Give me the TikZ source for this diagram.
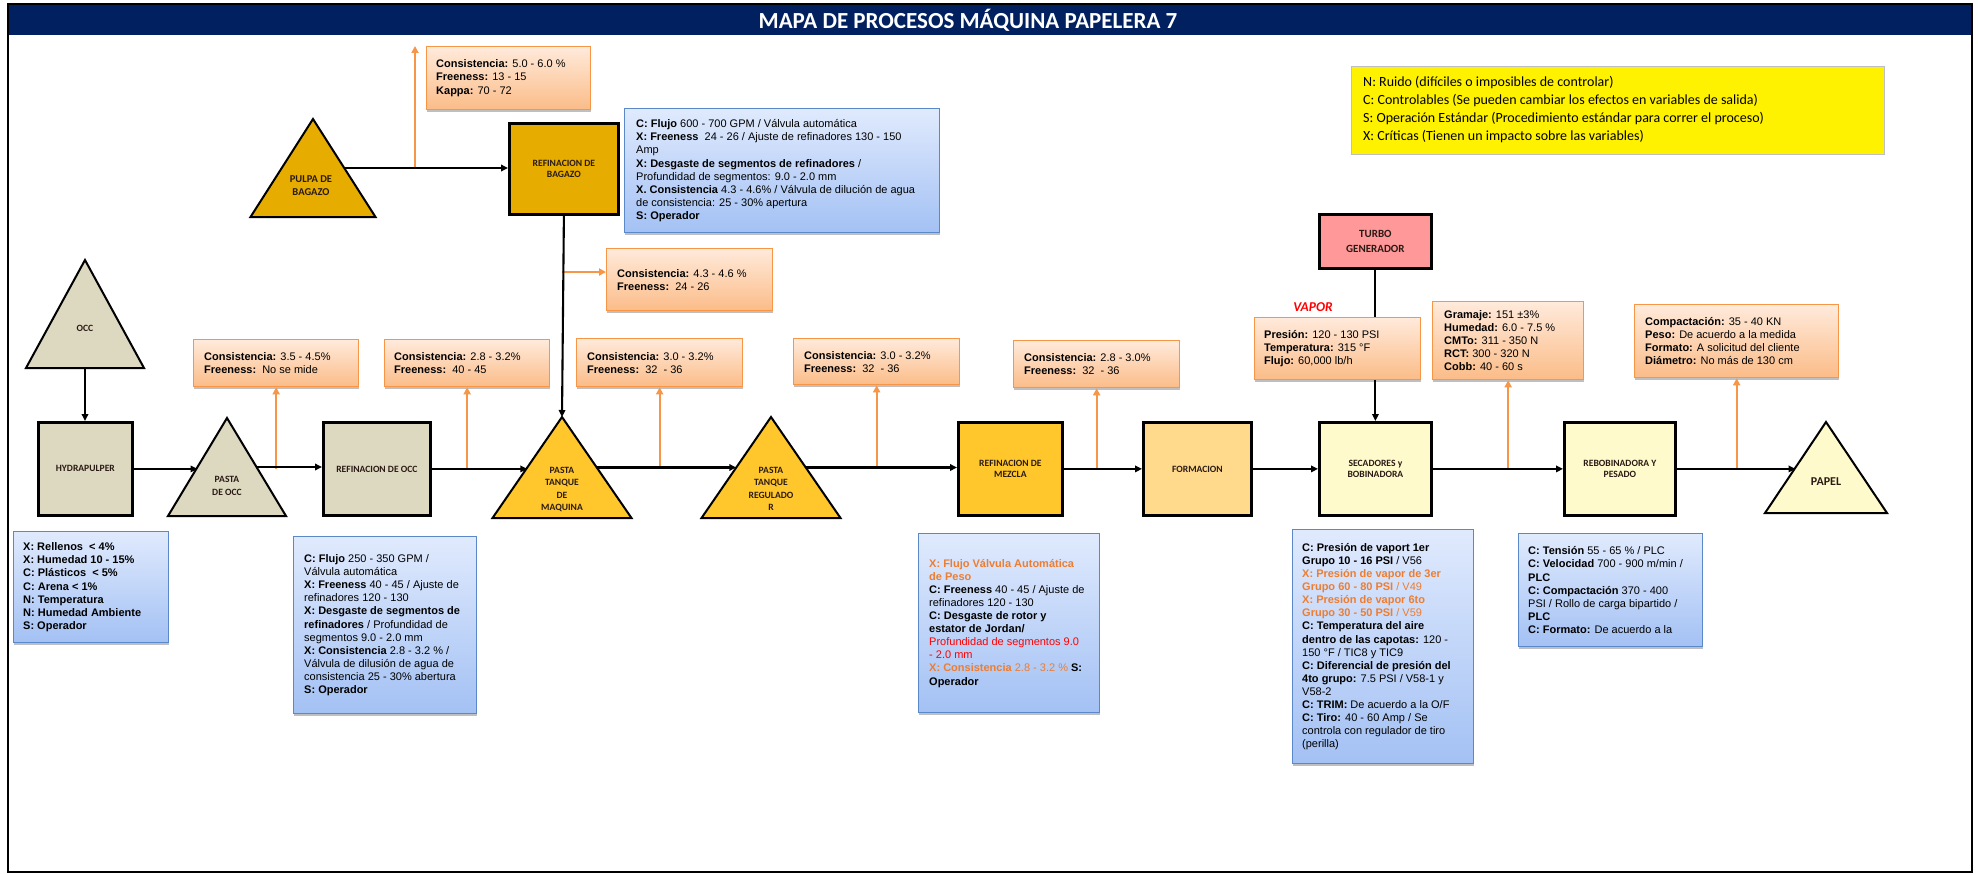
\documentclass[tikz,border=0pt]{standalone}
\usepackage{fontspec}
\setmainfont{Liberation Sans}
\newfontfamily\carlito{Carlito}
\usetikzlibrary{arrows.meta,calc,shadows}

\definecolor{cNavy}{HTML}{002060}
\definecolor{cTan}{HTML}{DDD8C0}
\definecolor{cGold}{HTML}{E6AC00}
\definecolor{cYel}{HTML}{FFC72C}
\definecolor{cForm}{HTML}{FFD98C}
\definecolor{cLtYel}{HTML}{FFFACC}
\definecolor{cPink}{HTML}{FF9999}
\definecolor{cLbl}{HTML}{2A1A14}
\definecolor{cOrgLine}{HTML}{F79646}
\definecolor{cOrgTop}{HTML}{FFEADB}
\definecolor{cOrgBot}{HTML}{FBBC88}
\definecolor{cBluLine}{HTML}{5A88C8}
\definecolor{cBluTop}{HTML}{E0EAFD}
\definecolor{cBluBot}{HTML}{A3C1F4}
\definecolor{cOrgTxt}{HTML}{ED7D31}
\definecolor{cLegBd}{HTML}{BFBFBF}

% triangle with apex (#2,#3), half base #4, height #5, fill #6
\newcommand\mytri[6]{%
  \coordinate (#1-a) at (#2,#3);
  \coordinate (#1-bl) at ({#2-#4},{#3+#5});
  \coordinate (#1-br) at ({#2+#4},{#3+#5});
  \draw[tri, fill=#6] (#1-a) -- (#1-br) -- (#1-bl) -- cycle;
  \coordinate (#1-l) at ($(#1-a)!0.5!(#1-bl)$);
  \coordinate (#1-r) at ($(#1-a)!0.5!(#1-br)$);
  \coordinate (#1-b) at ($(#1-bl)!0.5!(#1-br)$);
}

\begin{document}
\begin{tikzpicture}[x=1pt,y=-1pt,
  conn/.style={draw=black, line width=2.1pt, -{Triangle[length=7pt,width=6.5pt]}},
  oarr/.style={draw=cOrgLine, line width=2pt, -{Triangle[length=7pt,width=7pt]}},
  boxnode/.style={draw=black, line width=2.8pt, inner sep=0pt, anchor=north west,
    align=center, text=cLbl, font=\carlito\bfseries\fontsize{9.6}{11.5}\selectfont},
  tri/.style={draw=black, line width=2pt},
  trilbl/.style={inner sep=0pt, align=center, text=cLbl,
    font=\carlito\bfseries\fontsize{9.6}{12.4}\selectfont},
  shadowed/.style={drop shadow={shadow xshift=0.8pt, shadow yshift=-2.5pt, fill=black, opacity=0.25}},
  obox/.style={draw=cOrgLine, line width=1.3pt, top color=cOrgTop, bottom color=cOrgBot,
    anchor=north west, inner sep=0pt, shadowed},
  bbox/.style={draw=cBluLine, line width=1.3pt, top color=cBluTop, bottom color=cBluBot,
    anchor=north west, inner sep=0pt, shadowed},
  btxt/.style={anchor=west, inner sep=0pt, align=left, font=\fontsize{11}{13.1}\selectfont},
]
\useasboundingbox (0,0) rectangle (1978,875);

% frame and title bar
\fill[white] (0,0) rectangle (1978,875);
\fill[cNavy] (8,4) rectangle (1972,35);
\draw[line width=2.5pt] (8,4) rectangle (1972,872);
\node[text=white, font=\carlito\bfseries\fontsize{23}{26}\selectfont] (title) at (968,20)
  {MAPA DE PROCESOS MÁQUINA PAPELERA 7};

% legend
\node[draw=cLegBd, line width=1pt, fill=yellow, minimum width=533, minimum height=88,
  anchor=north west, inner sep=0pt] (leg) at (1351,66) {};
\node[anchor=west, inner sep=0pt, align=left, font=\carlito\fontsize{14}{18.2}\selectfont]
  (legt) at ([xshift=12pt,yshift=1pt]leg.west) {N: Ruido (difíciles o imposibles de controlar)\\
  C: Controlables (Se pueden cambiar los efectos en variables de salida)\\
  S: Operación Estándar (Procedimiento estándar para correr el proceso)\\
  X: Críticas (Tienen un impacto sobre las variables)};

% process boxes
\node[boxnode, fill=cTan, minimum width=94, minimum height=93] (hydra) at (37,421) {HYDRAPULPER};
\node[boxnode, fill=cTan, minimum width=107, minimum height=93] (refocc) at (322,421) {REFINACION DE OCC};
\node[boxnode, fill=cGold, minimum width=109, minimum height=91] (refbag) at (508,122) {REFINACION DE\\BAGAZO};
\node[boxnode, fill=cYel, minimum width=104, minimum height=93] (refmez) at (957,421) {REFINACION DE\\MEZCLA};
\node[boxnode, fill=cForm, minimum width=108, minimum height=93] (form) at (1142,421) {FORMACION};
\node[boxnode, fill=cLtYel, minimum width=112, minimum height=93] (secad) at (1318,421) {SECADORES y\\BOBINADORA};
\node[boxnode, fill=cLtYel, minimum width=111, minimum height=93] (rebob) at (1563,421) {REBOBINADORA Y\\PESADO};
\node[boxnode, fill=cPink, minimum width=112, minimum height=54,
  font=\carlito\bfseries\fontsize{11}{15}\selectfont] (turbo) at (1318,213) {TURBO\\GENERADOR};

% storage triangles
\mytri{occ}{85}{260}{59}{108}{cTan}
\mytri{pocc}{227}{418}{59}{98}{cTan}
\mytri{ptm}{562}{417}{69.5}{101}{cYel}
\mytri{ptr}{771}{417}{69.5}{101}{cYel}
\mytri{papel}{1826}{422}{61}{91}{cLtYel}
\mytri{pulpa}{313}{119}{62.5}{98}{cGold}
\node[trilbl] (occt) at (85,328) {OCC};
\node[trilbl, font=\carlito\bfseries\fontsize{9.6}{13}\selectfont] (poct) at (227,486) {PASTA\\DE OCC};
\node[trilbl] (ptmt) at (562,489.5) {PASTA\\TANQUE\\DE\\MAQUINA};
\node[trilbl] (ptrt) at (771,489) {PASTA\\TANQUE\\REGULADO\\R};
\node[trilbl, font=\carlito\bfseries\fontsize{12}{14}\selectfont] (papelt) at (1826,482) {PAPEL};
\node[trilbl, font=\carlito\bfseries\fontsize{10.5}{13}\selectfont] (pulpat) at (311,186) {PULPA DE\\BAGAZO};

% measured values (orange)
\node[obox, minimum width=164, minimum height=63] (ob1) at (426,46) {};
\node[btxt] (ob1t) at ([xshift=10pt]ob1.west) {\textbf{Consistencia:} 5.0 - 6.0 \%\\ \textbf{Freeness:} 13 - 15\\ \textbf{Kappa:} 70 - 72};
\node[obox, minimum width=166, minimum height=62] (ob2) at (606,248) {};
\node[btxt] (ob2t) at ([xshift=11pt]ob2.west) {\textbf{Consistencia:} 4.3 - 4.6 \%\\ \textbf{Freeness:}\ \ 24 - 26};
\node[obox, minimum width=165, minimum height=47] (ob3) at (193,339) {};
\node[btxt] (ob3t) at ([xshift=11pt]ob3.west) {\textbf{Consistencia:} 3.5 - 4.5\%\\ \textbf{Freeness:}\ \ No se mide};
\node[obox, minimum width=165, minimum height=47] (ob4) at (384,339) {};
\node[btxt] (ob4t) at ([xshift=10pt]ob4.west) {\textbf{Consistencia:} 2.8 - 3.2\%\\ \textbf{Freeness:}\ \ 40 - 45};
\node[obox, minimum width=166, minimum height=48] (ob5) at (576,338) {};
\node[btxt] (ob5t) at ([xshift=11pt]ob5.west) {\textbf{Consistencia:} 3.0 - 3.2\%\\ \textbf{Freeness:}\ \ 32\ \ - 36};
\node[obox, minimum width=166, minimum height=46] (ob6) at (793,338) {};
\node[btxt] (ob6t) at ([xshift=11pt]ob6.west) {\textbf{Consistencia:} 3.0 - 3.2\%\\ \textbf{Freeness:}\ \ 32\ \ - 36};
\node[obox, minimum width=166, minimum height=47] (ob7) at (1013,340) {};
\node[btxt] (ob7t) at ([xshift=11pt]ob7.west) {\textbf{Consistencia:} 2.8 - 3.0\%\\ \textbf{Freeness:}\ \ 32\ \ - 36};
\node[obox, minimum width=151, minimum height=78] (gram) at (1432,301) {};
\node[btxt] (gramt) at ([xshift=12pt]gram.west) {\textbf{Gramaje:} 151 ±3\%\\ \textbf{Humedad:} 6.0 - 7.5 \%\\ \textbf{CMTo:} 311 - 350 N\\ \textbf{RCT:} 300 - 320 N\\ \textbf{Cobb:} 40 - 60 s};
\node[obox, minimum width=204, minimum height=73] (comp) at (1634,304) {};
\node[btxt] (compt) at ([xshift=11pt]comp.west) {\textbf{Compactación:} 35 - 40 KN\\ \textbf{Peso:} De acuerdo a la medida\\ \textbf{Formato:} A solicitud del cliente\\ \textbf{Diámetro:} No más de 130 cm};

% process variables (blue)
\node[bbox, minimum width=315, minimum height=124] (b1) at (624,108) {};
\node[btxt] (b1t) at ([xshift=12pt]b1.west) {\textbf{C: Flujo} 600 - 700 GPM / Válvula automática\\
  \textbf{X: Freeness}\ \ 24 - 26 / Ajuste de refinadores 130 - 150\\
  Amp\\
  \textbf{X: Desgaste de segmentos de refinadores} /\\
  Profundidad de segmentos: 9.0 - 2.0 mm\\
  \textbf{X. Consistencia} 4.3 - 4.6\% / Válvula de dilución de agua\\
  de consistencia: 25 - 30\% apertura\\
  \textbf{S: Operador}};
\node[bbox, minimum width=155, minimum height=111] (bl) at (13,531) {};
\node[btxt, font=\bfseries\fontsize{11}{13.1}\selectfont] (blt) at ([xshift=10pt]bl.west) {X: Rellenos\ \ < 4\%\\
  X: Humedad 10 - 15\%\\ C: Plásticos\ \ < 5\%\\ C: Arena < 1\%\\ N: Temperatura\\ N: Humedad Ambiente\\ S: Operador};
\node[bbox, minimum width=183, minimum height=177] (bocc) at (293,536) {};
\node[btxt] (bocct) at ([xshift=11pt]bocc.west) {\textbf{C: Flujo} 250 - 350 GPM /\\
  Válvula automática\\
  \textbf{X: Freeness} 40 - 45 / Ajuste de\\
  refinadores 120 - 130\\
  \textbf{X: Desgaste de segmentos de}\\
  \textbf{refinadores} / Profundidad de\\
  segmentos 9.0 - 2.0 mm\\
  \textbf{X: Consistencia} 2.8 - 3.2 \% /\\
  Válvula de dilusión de agua de\\
  consistencia 25 - 30\% abertura\\
  \textbf{S: Operador}};
\node[bbox, minimum width=181, minimum height=179] (bmez) at (918,533) {};
\node[btxt] (bmezt) at ([xshift=11pt]bmez.west) {{\color{cOrgTxt}\textbf{X: Flujo Válvula Automática}}\\
  {\color{cOrgTxt}\textbf{de Peso}}\\
  \textbf{C: Freeness} 40 - 45 / Ajuste de\\
  refinadores 120 - 130\\
  \textbf{C: Desgaste de rotor y}\\
  \textbf{estator de Jordan/}\\
  {\color{red}Profundidad de segmentos 9.0}\\
  {\color{red}- 2.0 mm}\\
  {\color{cOrgTxt}\textbf{X: Consistencia} 2.8 - 3.2 \%} \textbf{S:}\\
  \textbf{Operador}};
\node[bbox, minimum width=181, minimum height=234] (bsec) at (1292,529) {};
\node[btxt] (bsect) at ([xshift=10pt]bsec.west) {\textbf{C: Presión de vaport 1er}\\
  \textbf{Grupo 10 - 16 PSI} / V56\\
  {\color{cOrgTxt}\textbf{X: Presión de vapor de 3er}}\\
  {\color{cOrgTxt}\textbf{Grupo 60 - 80 PSI} / V49}\\
  {\color{cOrgTxt}\textbf{X: Presión de vapor 6to}}\\
  {\color{cOrgTxt}\textbf{Grupo 30 - 50 PSI} / V59}\\
  \textbf{C: Temperatura del aire}\\
  \textbf{dentro de las capotas:} 120 -\\
  150 °F / TIC8 y TIC9\\
  \textbf{C: Diferencial de presión del}\\
  \textbf{4to grupo:} 7.5 PSI / V58-1 y\\
  V58-2\\
  \textbf{C: TRIM:} De acuerdo a la O/F\\
  \textbf{C: Tiro:} 40 - 60 Amp / Se\\
  controla con regulador de tiro\\
  (perilla)};
\node[bbox, minimum width=184, minimum height=113] (breb) at (1518,533) {};
\node[btxt] (brebt) at ([xshift=10pt]breb.west) {\textbf{C: Tensión} 55 - 65 \% / PLC\\
  \textbf{C: Velocidad} 700 - 900 m/min /\\
  \textbf{PLC}\\
  \textbf{C: Compactación} 370 - 400\\
  PSI / Rollo de carga bipartido /\\
  \textbf{PLC}\\
  \textbf{C: Formato:} De acuerdo a la};

% branch points
\coordinate (j1) at (415,168);
\coordinate (j2) at (562,272);

% orange measurement arrows
\draw[oarr] (j1) -- (j1 |- ob1.north);
\draw[oarr] (j2) -- (j2 -| ob2.west);
\draw[oarr] (ob3.south |- hydra.east) -- (ob3.south);
\draw[oarr] (ob4.south |- hydra.east) -- (ob4.south);
\draw[oarr] (ob5.south |- hydra.east) -- (ob5.south);
\draw[oarr] (ob6.south |- hydra.east) -- (ob6.south);
\draw[oarr] (ob7.south |- hydra.east) -- (ob7.south);
\draw[oarr] (gram.south |- hydra.east) -- (gram.south);
\draw[oarr] (comp.south |- hydra.east) -- (comp.south);

% process flow
\draw[conn] (occ-b) -- (occ-b |- hydra.north);
\draw[conn] (hydra.east) -- (hydra.east -| pocc-l);
\draw[conn] (pocc-r) -- (pocc-r -| refocc.west);
\draw[conn] (refocc.east) -- (refocc.east -| ptm-l);
\draw[conn] (ptm-r) -- (ptm-r -| ptr-l);
\draw[conn] (ptr-r) -- (ptr-r -| refmez.west);
\draw[conn] (refmez.east) -- (form.west);
\draw[conn] (form.east) -- (secad.west);
\draw[conn] (secad.east) -- (rebob.west);
\draw[conn] (rebob.east) -- (rebob.east -| papel-l);
\draw[conn] (pulpa-r) -- (pulpa-r -| refbag.west);
\draw[conn] (refbag.south) -- (ptm-a);
\draw[conn] (turbo.south) -- (secad.north);

% steam supply data, over the turbine line
\node[text=red, font=\carlito\bfseries\itshape\fontsize{13.5}{15}\selectfont] (vaporlbl) at (1313,307) {VAPOR};
\node[obox, minimum width=166, minimum height=62] (vap) at (1254,317) {};
\node[btxt] (vapt) at ([xshift=10pt]vap.west) {\textbf{Presión:} 120 - 130 PSI\\ \textbf{Temperatura:} 315 °F\\ \textbf{Flujo:} 60,000 lb/h};
\end{tikzpicture}
\end{document}
